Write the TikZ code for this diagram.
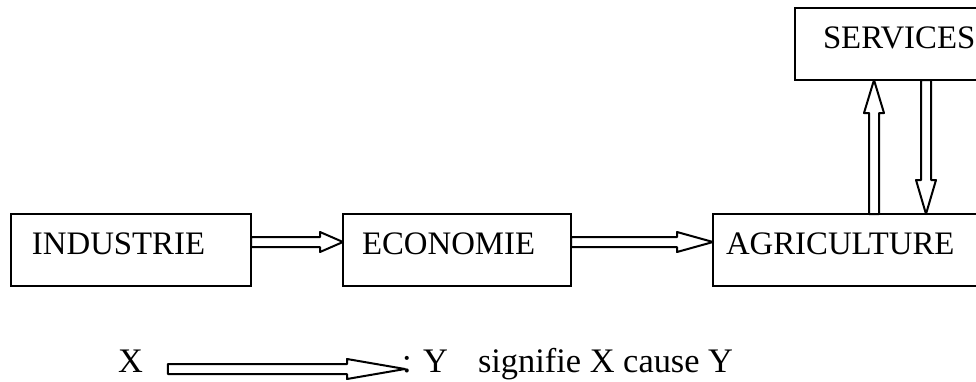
\documentclass[tikz,border=0pt]{standalone}
\usepackage{fontspec}
\setmainfont{Liberation Serif}
\usetikzlibrary{calc}

\def\boxheight{36pt}
\def\arrowlift{4pt}

\tikzset{hollow/.style={line join=round, to path={
    ($(\tikztostart)!2.5pt!90:(\tikztotarget)$)
    -- ($(\tikztotarget)!#1!(\tikztostart)!2.5pt!90:(\tikztotarget)$)
    -- ($(\tikztotarget)!#1!(\tikztostart)!5pt!90:(\tikztotarget)$)
    -- (\tikztotarget)
    -- ($(\tikztotarget)!#1!(\tikztostart)!5pt!-90:(\tikztotarget)$)
    -- ($(\tikztotarget)!#1!(\tikztostart)!2.5pt!-90:(\tikztotarget)$)
    -- ($(\tikztostart)!2.5pt!-90:(\tikztotarget)$)
    -- cycle}},
  hollow/.default=12pt}

\begin{document}
\begin{tikzpicture}[x=0.5pt,y=-0.5pt,line width=1pt]
    \tikzstyle{every node}=[font=\fontsize{16.4}{20}\selectfont]
    \tikzstyle{sector}=[draw, anchor=north west, align=left, outer sep=0pt, minimum height=\boxheight, inner ysep=0pt, text height=11pt, text depth=7pt]
    \tikzstyle{legend}=[anchor=base west, inner sep=0pt, font=\fontsize{17.2}{21}\selectfont]

    \useasboundingbox (0,0) rectangle (976,381);
    \clip (0,0) rectangle (976,381);

    %%% DRAW THE BOXES
    \node[sector, text width=99pt, inner xsep=10.5pt] (I) at (11,214) {INDUSTRIE};
    \node[sector, text width=95pt, inner xsep=9.5pt] (E) at (343,214) {ECONOMIE};
    \node[sector, text width=130pt, inner xsep=6.5pt] (A) at (713,214) {AGRICULTURE};
    \node[sector, text width=80pt, inner xsep=14pt] (S) at (795,8) {SERVICES};

    \coordinate (up) at (874,0);
    \coordinate (down) at (926,0);

    %%% DRAW THE ARROWS
    \draw[hollow=11.5pt] ([yshift=\arrowlift]I.east) to ([yshift=\arrowlift]E.west);
    \draw[hollow=18pt] ([yshift=\arrowlift]E.east) to ([yshift=\arrowlift]A.west);
    \draw[hollow=16.5pt] (A.north -| up) to (S.south -| up);
    \draw[hollow=17pt] (S.south -| down) to (A.north -| down);

    %%% LEGEND
    \node[legend] (lx) at (117,372) {X};
    \node[legend] (ly) at (401,372) {: Y};
    \node[legend] (lt) at (477,372) {signifie X cause Y};
    \draw[hollow=29pt] ([xshift=12pt,yshift=1.5pt]lx.base east) to ([xshift=2pt,yshift=1.5pt]ly.base west);

\end{tikzpicture}
\end{document}
